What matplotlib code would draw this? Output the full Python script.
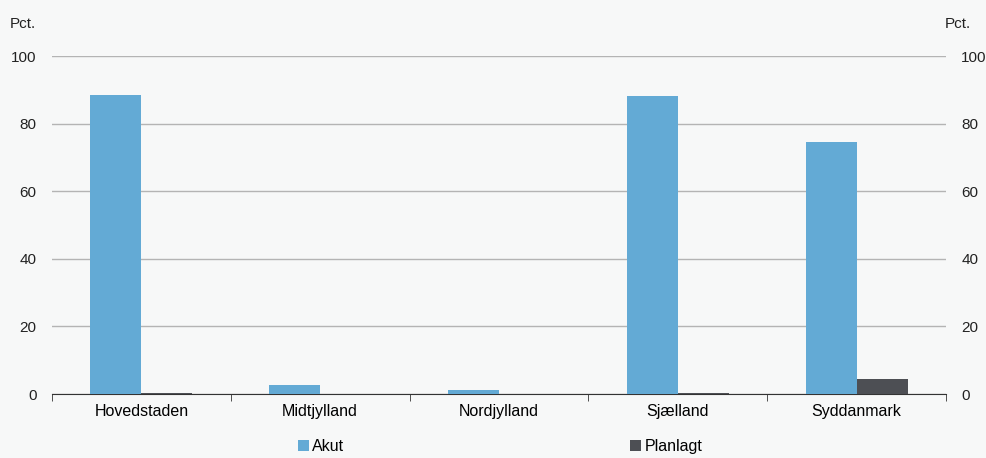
import numpy as np
import matplotlib.pyplot as plt

plt.rcParams['font.family'] = ['Liberation Sans', 'DejaVu Sans']

regions = ['Hovedstaden', 'Midtjylland', 'Nordjylland', 'Sjælland', 'Syddanmark']
akut = [88.5, 2.7, 1.3, 88.3, 74.7]
planlagt = [0.3, 0.1, 0.1, 0.3, 4.3]
yticks = [0, 20, 40, 60, 80, 100]

bg = '#f7f8f8'
fig = plt.figure(figsize=(9.86, 4.58), dpi=100, facecolor=bg)
ax = fig.add_axes([0.0527, 0.1397, 0.9067, 0.738], facecolor=bg)

x = np.arange(len(regions))
w = 0.285
ax.bar(x - w / 2, akut, w, color='#63aad5', label='Akut', zorder=3)
ax.bar(x + w / 2, planlagt, w, color='#4d4f54', label='Planlagt', zorder=3)

ax.set_xlim(-0.5, len(regions) - 0.5)
ax.set_ylim(0, 100)
ax.set_yticks(yticks)
ax.yaxis.grid(True, color='#b4b4b4', linewidth=1, zorder=0)
ax.set_xticks(x)
ax.set_xticklabels(regions, fontsize=11.5)
ax.tick_params(axis='x', length=0, pad=7)
ax.set_xticks(np.arange(len(regions) + 1) - 0.5, minor=True)
ax.tick_params(axis='x', which='minor', length=5, color='#333333', direction='out')
ax.tick_params(axis='y', length=0, labelsize=11, pad=11, colors='#222222')

for s in ['top', 'left', 'right']:
    ax.spines[s].set_visible(False)
ax.spines['bottom'].set_color('#333333')

ax2 = ax.twinx()
ax2.set_ylim(0, 100)
ax2.set_yticks(yticks)
ax2.tick_params(axis='y', length=0, labelsize=11, pad=11, colors='#222222')
for s in ['top', 'left', 'right', 'bottom']:
    ax2.spines[s].set_visible(False)

fig.text(0.010, 0.938, 'Pct.', fontsize=11, color='#222222')
fig.text(0.958, 0.938, 'Pct.', fontsize=11, color='#222222')

fig.legend(loc='lower center', bbox_to_anchor=(0.507, -0.022), ncol=2, frameon=False,
           fontsize=11.5, handlelength=0.7, handleheight=0.7, handletextpad=0.2,
           columnspacing=17.9)

fig.savefig('out.png', dpi=100, facecolor=bg)
